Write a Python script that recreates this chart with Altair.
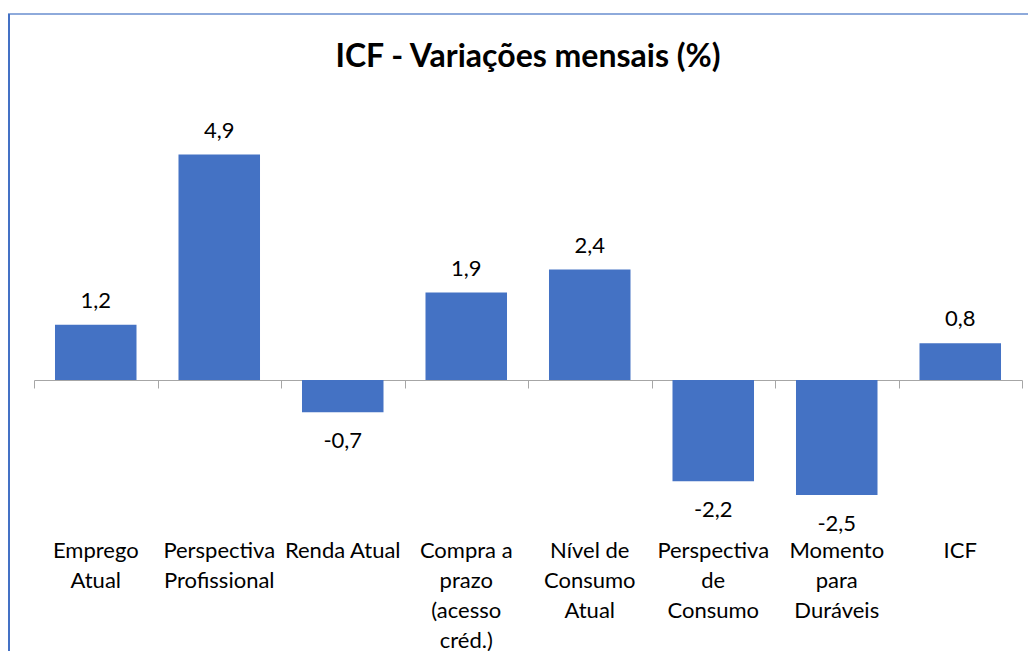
import altair as alt
import pandas as pd

# ---- data ----
categories = [
    "Emprego|Atual",
    "Perspectiva|Profissional",
    "Renda Atual",
    "Compra a|prazo|(acesso|créd.)",
    "Nível de|Consumo|Atual",
    "Perspectiva|de|Consumo",
    "Momento|para|Duráveis",
    "ICF",
]
values = [1.2, 4.9, -0.7, 1.9, 2.4, -2.2, -2.5, 0.8]
value_labels = ["1,2", "4,9", "-0,7", "1,9", "2,4", "-2,2", "-2,5", "0,8"]

df = pd.DataFrame({"cat": categories, "v": values, "lbl": value_labels})

FONT = "Lato"
BAR = "#4472C4"
AXIS_GRAY = "#a6a6a6"

y_scale = alt.Scale(domain=[-3, 6], nice=False, zero=True)
band_scale = alt.Scale(paddingInner=0, paddingOuter=0)

base = alt.Chart(df)

# axis drawn at the zero line: domain + ticks at category boundaries
zero_axis = alt.Axis(
    orient="bottom",
    title=None,
    labels=False,
    domain=True,
    domainColor=AXIS_GRAY,
    domainWidth=1,
    ticks=True,
    tickColor=AXIS_GRAY,
    tickWidth=1,
    tickSize=8,
    tickBand="extent",
    offset=-138,
    grid=False,
)

# axis at the bottom carrying only the category labels
label_axis = alt.Axis(
    orient="bottom",
    title=None,
    domain=False,
    ticks=False,
    grid=False,
    labelAngle=0,
    labelExpr="split(datum.value, '|')",
    labelFont=FONT,
    labelFontSize=22,
    labelColor="black",
    labelPadding=22,
    labelLineHeight=30,
    labelLimit=300,
    labelOverlap=False,
    labelBaseline="top",
)

bars = base.mark_bar(color=BAR, width=alt.RelativeBandSize(0.66)).encode(
    x=alt.X("cat:N", sort=categories, scale=band_scale, axis=zero_axis),
    y=alt.Y("v:Q", scale=y_scale, axis=None),
)

pos_text = base.mark_text(
    font=FONT, fontSize=22, color="black", baseline="alphabetic", dy=-17
).encode(
    x=alt.X("cat:N", sort=categories, axis=label_axis),
    y=alt.Y("v:Q", axis=None),
    text="lbl:N",
).transform_filter(alt.datum.v >= 0)

neg_text = base.mark_text(
    font=FONT, fontSize=22, color="black", baseline="alphabetic", dy=36
).encode(
    x=alt.X("cat:N", sort=categories, axis=None),
    y=alt.Y("v:Q", axis=None),
    text="lbl:N",
).transform_filter(alt.datum.v < 0)

# chart-area frame (top and left edges visible in the reference)
top_border = alt.Chart(df).mark_rule(color="#8eaadb", strokeWidth=2).encode(
    x=alt.value(-26), x2=alt.value(1000), y=alt.value(-90)
)
left_border = alt.Chart(df).mark_rule(color="#4472c4", strokeWidth=1.5).encode(
    x=alt.value(-25), y=alt.value(-90), y2=alt.value(560)
)

chart = (
    alt.layer(bars, pos_text, neg_text, top_border, left_border)
    .resolve_axis(x="independent")
    .properties(
        width=988,
        height=414,
        title=alt.Title(
            "ICF - Variações mensais (%)",
            font=FONT,
            fontSize=32,
            fontWeight="bold",
            color="black",
            anchor="middle",
            frame="group",
            baseline="alphabetic",
            offset=-86,
        ),
        autosize=alt.AutoSizeParams(type="none"),
        padding={"left": 26, "top": 96, "right": 6, "bottom": 133},
        background="white",
    )
    .configure_view(stroke=None)
)

chart.save("out.html", embed_options={"renderer": "svg", "actions": False})
